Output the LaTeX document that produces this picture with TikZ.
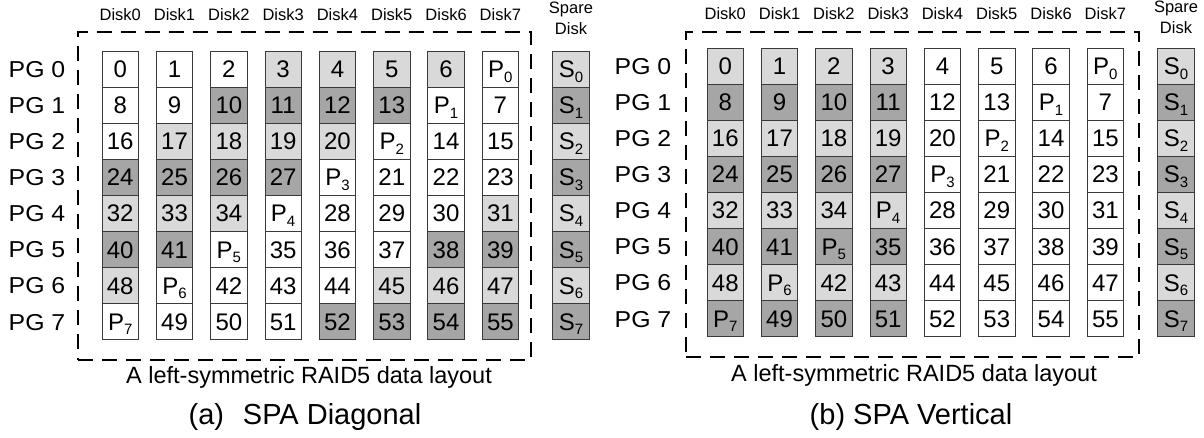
\documentclass[tikz,border=0pt]{standalone}
\usepackage{fontspec}
\setmainfont{Liberation Sans}
\definecolor{lg}{HTML}{D9D9D9}
\definecolor{dg}{HTML}{A6A6A6}
\definecolor{edge}{HTML}{3A3A3A}
\newcommand{\blk}[2]{#1\raisebox{-4.5pt}{\fontsize{15}{15}\selectfont #2}}
\newcommand{\wide}[1]{\scalebox{1.08}[1]{#1}}
\begin{document}
\begin{tikzpicture}[x=1pt,y=-1pt,
  cell/.style={draw=edge, line width=0.8pt, minimum width=36.5pt, minimum height=36.1pt,
    inner sep=0pt, font=\fontsize{24}{24}\selectfont, text height=17pt, text depth=0pt},
  disklbl/.style={font=\fontsize{16.5}{16.5}\selectfont, inner sep=0pt},
  sparelbl/.style={font=\fontsize{16.5}{20.5}\selectfont, inner sep=0pt, align=center},
  pglbl/.style={font=\fontsize{23}{23}\selectfont, inner sep=0pt, text height=16.5pt, text depth=0pt},
  groupbox/.style={draw=black, line width=2.2pt, dash pattern=on 15pt off 9pt},
  subcap/.style={font=\fontsize{23.5}{23.5}\selectfont, inner sep=0pt},
  maincap/.style={font=\fontsize{29}{29}\selectfont, inner sep=0pt}]
\fill[white] (0,0) rectangle (1204,438);
\useasboundingbox (0,0) rectangle (1204,438);

% ---------------- (a) SPA Diagonal ----------------
\node[groupbox, minimum width=453pt, minimum height=328pt, inner sep=0pt] (boxa) at (304.5,196) {};
\foreach \r/\row in {
  0/{white,white,white,lg,lg,lg,lg,white},
  1/{white,white,dg,dg,dg,dg,white,white},
  2/{white,lg,lg,lg,lg,white,white,white},
  3/{dg,dg,dg,dg,white,white,white,white},
  4/{lg,lg,lg,white,white,white,white,lg},
  5/{dg,dg,white,white,white,white,dg,dg},
  6/{lg,white,white,white,white,lg,lg,lg},
  7/{white,white,white,white,dg,dg,dg,dg}} {
  \foreach \s [count=\c from 0] in \row {
    \pgfmathtruncatemacro{\p}{7-\r}
    \pgfmathtruncatemacro{\n}{7*\r+mod(\c+\r,8)}
    \node[cell, fill=\s] (a\r-\c) at ({120.25+54.3*\c},{69.05+36.1*\r})
      {\ifnum\c=\p\relax\blk{P}{\r}\else\n\fi};
  }
  \pgfmathtruncatemacro{\q}{mod(\r,2)}
  \ifnum\q=0\relax\def\sc{lg}\else\def\sc{dg}\fi
  \node[cell, fill=\sc] (as\r) at (571,{69.05+36.1*\r}) {\blk{S}{\r}};
  \node[pglbl] (apg\r) at (37,{69.05+36.1*\r}) {\wide{PG \r}};
}
\foreach \c in {0,...,7} {
  \node[disklbl] (ad\c) at ({120.25+54.3*\c},14.5) {Disk\c};
}
\node[sparelbl] (asp) at (571,18.5) {Spare\\Disk};
\node[subcap] (acap) at (309,377) {A left-symmetric RAID5 data layout};
\node[maincap] (atitle) at (305,417) {(a)\hspace{0.65em}SPA Diagonal};

% ---------------- (b) SPA Vertical ----------------
\node[groupbox, minimum width=453pt, minimum height=325pt, inner sep=0pt] (boxb) at (912.5,194.5) {};
\foreach \r in {0,...,7} {
  \pgfmathtruncatemacro{\q}{mod(\r,2)}
  \ifnum\q=0\relax\def\sc{lg}\else\def\sc{dg}\fi
  \foreach \c in {0,...,7} {
    \pgfmathtruncatemacro{\p}{7-\r}
    \pgfmathtruncatemacro{\n}{7*\r+mod(\c+\r,8)}
    \ifnum\c<4\relax\def\fc{\sc}\else\def\fc{white}\fi
    \node[cell, fill=\fc] (b\r-\c) at ({725.25+54.3*\c},{66.05+36.1*\r})
      {\ifnum\c=\p\relax\blk{P}{\r}\else\n\fi};
  }
  \node[cell, fill=\sc] (bs\r) at (1176,{66.05+36.1*\r}) {\blk{S}{\r}};
  \node[pglbl] (bpg\r) at (643,{66.05+36.1*\r}) {\wide{PG \r}};
}
\foreach \c in {0,...,7} {
  \node[disklbl] (bd\c) at ({725.25+54.3*\c},13.5) {Disk\c};
}
\node[sparelbl] (bsp) at (1176,17.5) {Spare\\Disk};
\node[subcap] (bcap) at (914,375) {A left-symmetric RAID5 data layout};
\node[maincap] (btitle) at (911,417) {(b) SPA Vertical};
\end{tikzpicture}
\end{document}
